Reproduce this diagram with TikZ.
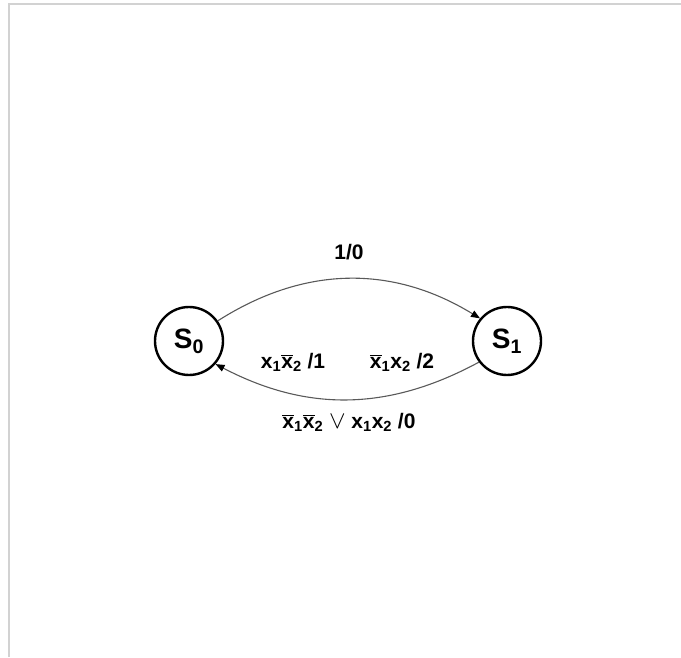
\documentclass[tikz,border=0pt]{standalone}
\usepackage{fontspec}
\setmainfont{Liberation Sans}
\usetikzlibrary{arrows.meta}

\newcommand{\xs}[1]{x\textsubscript{#1}}
\newcommand{\xb}[1]{$\overline{\hbox{x}}$\textsubscript{#1}}
\newcommand{\orsym}{\mbox{\fontsize{26}{28}\selectfont$\vee$}}

\begin{document}
\begin{tikzpicture}[x=1pt,y=1pt,
		stnode/.style={circle,draw,line width=2.4pt,minimum size=68pt,inner sep=0pt,
			font=\fontsize{28}{30}\selectfont\bfseries},
		trans/.style={draw=gray!70!black,line width=1.1pt,-{Triangle[length=9pt,width=7pt,color=black]}},
		lab/.style={font=\fontsize{21}{23}\selectfont\bfseries,inner sep=1pt}]
				\path[use as bounding box]
				(0,0) rectangle (681,657);
				\draw[gray!35,line width=1.5pt] (9,0) -- (9,653) -- (681,653);
				\node[stnode] (s0) at (189,316) {S\textsubscript{0}};
				\node[stnode] (s1) at (507,316) {S\textsubscript{1}};
				\draw[trans] (s0.35) to[bend left=32] (s1.140);
				\draw[trans] (s1.217) to[bend left=28] (s0.319);
				\node[lab] (l10) at (349,405) {1/0};
				\node[lab] (l21) at (293,295) {\xs{1}\xb{2} /1};
				\node[lab] (l12) at (402,295) {\xb{1}\xs{2} /2};
				\node[lab] (l00) at (349,235) {\xb{1}\xb{2} \orsym{} \xs{1}\xs{2} /0};
			\end{tikzpicture}
\end{document}
